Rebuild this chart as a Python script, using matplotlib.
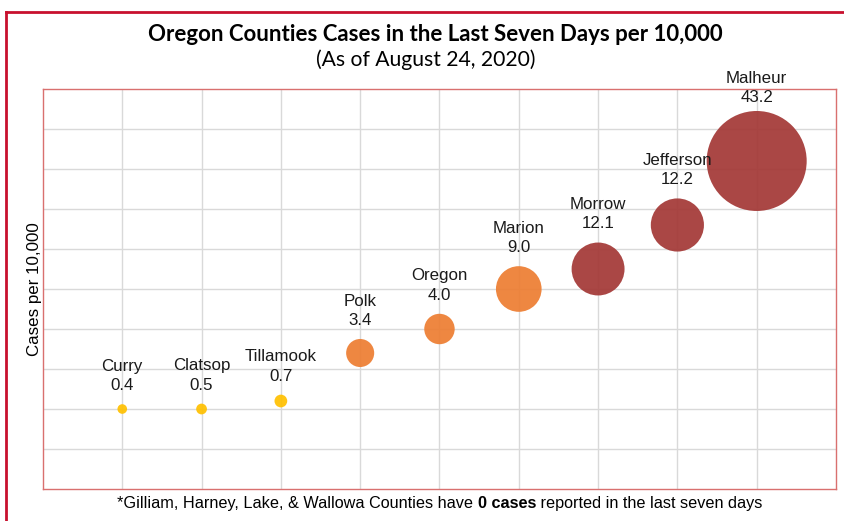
import numpy as np
import matplotlib
matplotlib.use("Agg")
import matplotlib.pyplot as plt
from matplotlib.lines import Line2D

counties = ["Curry", "Clatsop", "Tillamook", "Polk", "Oregon",
            "Marion", "Morrow", "Jefferson", "Malheur"]
cases = [0.4, 0.5, 0.7, 3.4, 4.0, 9.0, 12.1, 12.2, 43.2]
y_pos = [2.0, 2.0, 2.2, 3.4, 4.0, 5.0, 5.5, 6.6, 8.2]
x_pos = list(range(1, len(counties) + 1))

footnote_parts = ["*Gilliam, Harney, Lake, & Wallowa Counties have ", "0 cases",
                  " reported in the last seven days"]


def bubble_color(v):
    if v < 1:
        return "#FFC000"
    if v < 10:
        return "#ED7D31"
    return "#A33735"


plt.rcParams['font.family'] = ['Liberation Sans', 'DejaVu Sans']

fig = plt.figure(figsize=(8.44, 5.21), dpi=100)
ax = fig.add_axes([0.0509, 0.0614, 0.9396, 0.7678])

sizes = np.array(cases) * 120.0  # area in pt^2, scaled like excel bubbles
cols = [bubble_color(v) for v in cases]
ax.scatter(x_pos, y_pos, s=sizes, c=cols, alpha=0.92, linewidths=0, zorder=3)

for x, y, name, v, s in zip(x_pos, y_pos, counties, cases, sizes):
    r = np.sqrt(s) / 2
    # excel pulls the label in a bit on the biggest bubble
    off = min(r + 8, 40)
    ax.annotate(f"{name}\n{v:.1f}", (x, y), xytext=(0, off),
                textcoords="offset points", ha="center", va="bottom",
                fontsize=12.2, linespacing=1.35, color="#1a1a1a",
                annotation_clip=False, zorder=4)

ax.set_xlim(0, 10)
ax.set_ylim(0, 10)
ax.set_xticks(range(1, 10))
ax.set_yticks(range(1, 10))
ax.tick_params(length=0, labelbottom=False, labelleft=False)
ax.grid(True, color="#D9D9D9", lw=1.0, zorder=0)
for sp in ax.spines.values():
    sp.set_color("#D9706F")
    sp.set_linewidth(1.0)

ax.set_ylabel("Cases per 10,000", fontsize=12.2, labelpad=1)

fig.text(0.5153, 0.933, "Oregon Counties Cases in the Last Seven Days per 10,000",
         ha="center", va="center", fontsize=16, fontweight="bold",
         family=["Lato", "DejaVu Sans"])
fig.text(0.5042, 0.885, "(As of August 24, 2020)", ha="center", va="center",
         fontsize=15.2, family=["Lato", "DejaVu Sans"])

# footnote with a bold middle piece, laid out left to right
renderer = fig.canvas.get_renderer()
weights = ["normal", "bold", "normal"]
pieces = []
for txt, w in zip(footnote_parts, weights):
    t = fig.text(0, 0.034, txt, ha="left", va="center", fontsize=11.7, fontweight=w)
    pieces.append(t)
widths = [p.get_window_extent(renderer).width / fig.bbox.width for p in pieces]
x0 = 0.521 - sum(widths) / 2
for p, w in zip(pieces, widths):
    p.set_x(x0)
    x0 += w

# outer red frame (left and top edges)
fig.add_artist(Line2D([0.0071, 0.0071], [0, 0.977], color="#C8102E", lw=2,
                      transform=fig.transFigure))
fig.add_artist(Line2D([0.0071, 1.0], [0.977, 0.977], color="#C8102E", lw=2,
                      transform=fig.transFigure))

fig.savefig("out.png", dpi=100)
